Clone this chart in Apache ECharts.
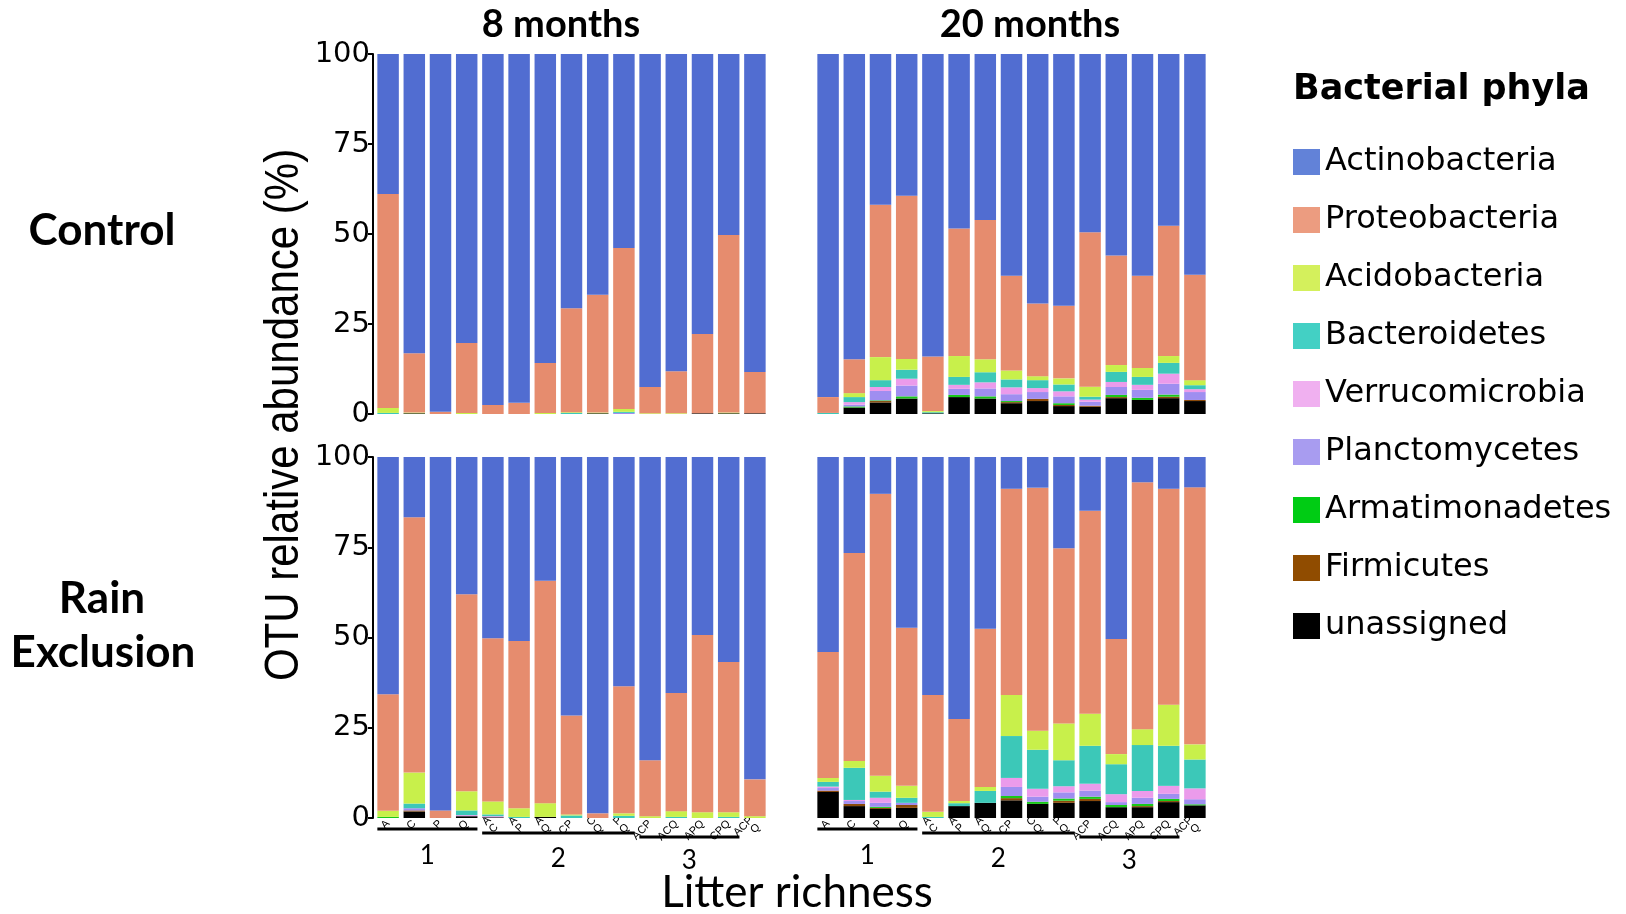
<!DOCTYPE html>
<html>
<head>
<meta charset="utf-8">
<script src="https://cdn.jsdelivr.net/npm/echarts@6/dist/echarts.min.js"></script>
<style>
  html, body { margin: 0; padding: 0; background: #ffffff; }
  #chart { width: 1626px; height: 914px; }
</style>
</head>
<body>
<div id="chart"></div>
<script>
// Litter mixtures on the x axis (richness 1, 2, 3, 4)
const categories = ['A', 'C', 'P', 'Q', 'A\nC', 'A\nP', 'A\nQ', 'CP', 'C\nQ', 'P\nQ',
                    'ACP', 'ACQ', 'APQ', 'CPQ', 'ACP\nQ'];
const yTicks = [0, 25, 50, 75, 100];

// Richness brackets: label, first and last category index
const richnessGroups = [
  { label: '1', first: 0, last: 3 },
  { label: '2', first: 4, last: 9 },
  { label: '3', first: 10, last: 13 }
];

// Phyla in legend order (top of stack first)
const phyla = ['Actinobacteria', 'Proteobacteria', 'Acidobacteria', 'Bacteroidetes',
               'Verrucomicrobia', 'Planctomycetes', 'Armatimonadetes', 'Firmicutes', 'unassigned'];
const barColors = ['#516DD1', '#E68C6E', '#C8F04B', '#3CC8B8', '#EB9BEB',
                   '#9F8EF0', '#19C819', '#8A4A0A', '#000000'];
const legendColors = ['#6282D8', '#EC9C80', '#D4F05C', '#43D0C4', '#F0B0F0',
                      '#A89CF0', '#00CC14', '#904C00', '#000000'];

// Relative abundance (%) per phylum, Control, 8 months
const control8 = {
  Actinobacteria:  [38.9, 83.1, 99.4, 80.3, 97.5, 96.9, 85.8, 70.6, 66.9, 53.9, 92.5, 88.1, 77.8, 50.3, 88.3],
  Proteobacteria:  [59.4, 16.5, 0.6, 19.4, 2.5, 3.1, 13.9, 28.9, 32.7, 44.7, 7.3, 11.7, 22.0, 49.3, 11.5],
  Acidobacteria:   [1.4, 0.2, 0, 0.3, 0, 0, 0.3, 0.2, 0.2, 0.8, 0.2, 0.2, 0, 0.2, 0],
  Bacteroidetes:   [0.3, 0, 0, 0, 0, 0, 0, 0.3, 0, 0.3, 0, 0, 0, 0, 0],
  Verrucomicrobia: [0, 0, 0, 0, 0, 0, 0, 0, 0, 0, 0, 0, 0, 0, 0],
  Planctomycetes:  [0, 0, 0, 0, 0, 0, 0, 0, 0, 0.3, 0, 0, 0, 0, 0],
  Armatimonadetes: [0, 0, 0, 0, 0, 0, 0, 0, 0, 0, 0, 0, 0, 0, 0],
  Firmicutes:      [0, 0, 0, 0, 0, 0, 0, 0, 0, 0, 0, 0, 0, 0, 0],
  unassigned:      [0, 0.2, 0, 0, 0, 0, 0, 0, 0.2, 0, 0, 0, 0.2, 0.2, 0.2]
};

// Control, 20 months
const control20 = {
  Actinobacteria:  [95.3, 84.8, 41.9, 39.4, 84.0, 48.5, 46.1, 61.6, 69.3, 69.9, 49.5, 56.0, 61.6, 47.7, 61.3],
  Proteobacteria:  [4.4, 9.4, 42.3, 45.3, 15.2, 35.4, 38.7, 26.3, 20.2, 20.2, 42.9, 30.4, 25.6, 36.2, 29.3],
  Acidobacteria:   [0, 1.1, 6.4, 3.0, 0.3, 5.8, 3.6, 2.5, 1.1, 1.7, 2.8, 1.9, 2.5, 1.9, 1.4],
  Bacteroidetes:   [0.3, 1.4, 1.9, 2.5, 0.3, 2.2, 2.8, 2.2, 2.2, 1.9, 0.8, 2.8, 2.2, 3.0, 1.1],
  Verrucomicrobia: [0, 0.7, 1.1, 1.9, 0, 1.1, 1.7, 1.9, 1.1, 1.4, 0.6, 1.4, 1.4, 2.8, 0.8],
  Planctomycetes:  [0, 0.5, 2.6, 3.0, 0, 1.7, 2.2, 1.9, 1.9, 1.9, 1.1, 2.2, 2.2, 3.0, 2.2],
  Armatimonadetes: [0, 0.3, 0.2, 0.6, 0, 0.6, 0.6, 0.3, 0, 0.5, 0, 0.6, 0.6, 0.6, 0],
  Firmicutes:      [0, 0, 0.4, 0, 0, 0, 0, 0.3, 0.6, 0.3, 0.3, 0.3, 0, 0.4, 0.3],
  unassigned:      [0, 1.8, 3.2, 4.3, 0.2, 4.7, 4.3, 3.0, 3.6, 2.2, 2.0, 4.4, 3.9, 4.4, 3.6]
};

// Rain exclusion, 8 months
const rain8 = {
  Actinobacteria:  [65.7, 16.7, 97.9, 38.0, 50.2, 51.0, 34.3, 71.6, 98.7, 63.5, 84.0, 65.4, 49.3, 56.8, 89.3],
  Proteobacteria:  [32.3, 70.7, 2.1, 54.6, 45.2, 46.3, 61.6, 27.4, 1.3, 35.2, 15.5, 32.7, 49.1, 41.6, 10.2],
  Acidobacteria:   [1.7, 8.6, 0, 5.3, 3.6, 2.4, 3.8, 0.3, 0, 0.7, 0.5, 1.6, 1.6, 1.3, 0.5],
  Bacteroidetes:   [0, 1.3, 0, 1.3, 0.5, 0.3, 0, 0.7, 0, 0.6, 0, 0.3, 0, 0.3, 0],
  Verrucomicrobia: [0, 0, 0, 0.3, 0.3, 0, 0, 0, 0, 0, 0, 0, 0, 0, 0],
  Planctomycetes:  [0, 0.6, 0, 0, 0, 0, 0, 0, 0, 0, 0, 0, 0, 0, 0],
  Armatimonadetes: [0.3, 0, 0, 0, 0, 0, 0, 0, 0, 0, 0, 0, 0, 0, 0],
  Firmicutes:      [0, 0.3, 0, 0, 0, 0, 0, 0, 0, 0, 0, 0, 0, 0, 0],
  unassigned:      [0, 1.8, 0, 0.5, 0.2, 0, 0.3, 0, 0, 0, 0, 0, 0, 0, 0]
};

// Rain exclusion, 20 months
const rain20 = {
  Actinobacteria:  [54.0, 26.6, 10.2, 47.3, 65.9, 72.6, 47.6, 8.8, 8.5, 25.3, 14.9, 50.4, 7.0, 8.8, 8.4],
  Proteobacteria:  [34.9, 57.6, 78.1, 43.8, 32.4, 22.7, 43.8, 57.1, 67.3, 48.5, 56.2, 31.9, 68.4, 59.8, 71.2],
  Acidobacteria:   [1.1, 1.9, 4.4, 3.3, 1.4, 0.6, 1.1, 11.4, 5.3, 10.2, 8.9, 2.8, 4.4, 11.4, 4.2],
  Bacteroidetes:   [1.3, 8.9, 1.7, 1.4, 0.3, 0.8, 3.3, 11.6, 10.8, 7.2, 10.5, 8.3, 12.7, 11.1, 8.0],
  Verrucomicrobia: [0.4, 0.3, 1.4, 0, 0, 0, 0, 2.5, 2.2, 1.7, 1.9, 2.2, 1.9, 2.2, 3.0],
  Planctomycetes:  [0.7, 0.8, 1.1, 0.6, 0, 0, 0, 2.5, 1.4, 1.7, 1.7, 0.8, 1.7, 1.4, 1.4],
  Armatimonadetes: [0, 0, 0.3, 0, 0, 0, 0, 0.6, 0.6, 0.6, 0.6, 0.6, 0.6, 0.6, 0.3],
  Firmicutes:      [0.4, 0.6, 0.3, 0.8, 0, 0, 0, 0.6, 0, 0.6, 0.6, 0, 0.3, 0.3, 0],
  unassigned:      [7.2, 3.3, 2.5, 2.8, 0, 3.3, 4.2, 4.9, 3.9, 4.2, 4.7, 3.0, 3.0, 4.4, 3.5]
};

// Panel layout: data, grid box, whether the y axis and the x labels are drawn
const panels = [
  { data: control8,  grid: { left: 375, top: 54,  width: 393, height: 360 }, yAxis: true,  xLabels: false },
  { data: control20, grid: { left: 815, top: 54,  width: 393, height: 360 }, yAxis: false, xLabels: false },
  { data: rain8,     grid: { left: 375, top: 457, width: 393, height: 361 }, yAxis: true,  xLabels: true },
  { data: rain20,    grid: { left: 815, top: 457, width: 393, height: 361 }, yAxis: false, xLabels: true }
];

const chart = echarts.init(document.getElementById('chart'), null, { renderer: 'canvas' });

const grids = [], xAxes = [], yAxes = [], series = [];
panels.forEach((p, gi) => {
  grids.push(Object.assign({ containLabel: false }, p.grid));
  xAxes.push({
    type: 'category', gridIndex: gi, data: categories,
    axisLine: { show: false }, axisTick: { show: false },
    axisLabel: {
      show: p.xLabels, interval: 0, rotate: 45, margin: 4,
      fontFamily: 'Liberation Sans', fontSize: 11, lineHeight: 10, color: '#000'
    }
  });
  yAxes.push({
    type: 'value', gridIndex: gi, min: yTicks[0], max: yTicks[yTicks.length - 1], interval: 25,
    show: p.yAxis, offset: 2,
    splitLine: { show: false },
    axisLine: { show: p.yAxis, lineStyle: { color: '#000', width: 2 } },
    axisTick: { show: p.yAxis, length: 5, lineStyle: { color: '#000', width: 2 } },
    axisLabel: {
      show: p.yAxis, margin: 3, color: '#000',
      fontFamily: 'DejaVu Sans', fontSize: 29
    }
  });
  // stack from the bottom: unassigned first, Actinobacteria on top
  for (let k = phyla.length - 1; k >= 0; k--) {
    const name = phyla[k];
    series.push({
      name: name, type: 'bar', stack: 'panel' + gi,
      xAxisIndex: gi, yAxisIndex: gi,
      barCategoryGap: '18%',
      data: p.data[name],
      itemStyle: { color: barColors[k] },
      emphasis: { disabled: true },
      animation: false
    });
  }
});

const textStyleBase = { fill: '#000' };

const option = {
  backgroundColor: '#ffffff',
  animation: false,
  grid: grids,
  xAxis: xAxes,
  yAxis: yAxes,
  series: series,
  legend: {
    orient: 'vertical', left: 1288, top: 141,
    itemWidth: 27, itemHeight: 26, itemGap: 26,
    icon: 'rect', selectedMode: false,
    textStyle: { fontFamily: 'DejaVu Sans', fontSize: 32, color: '#000', padding: [0, 0, 0, 0] },
    data: phyla.map((n, i) => ({ name: n, itemStyle: { color: legendColors[i] } }))
  },
  graphic: [
    { type: 'text', x: 1293, y: 90, style: Object.assign({ text: 'Bacterial phyla', font: 'bold 35px "DejaVu Sans"', textAlign: 'left', textVerticalAlign: 'middle' }, textStyleBase) },
    { type: 'text', x: 561, y: 25, style: Object.assign({ text: '8 months', font: 'bold 38px Lato', textAlign: 'center', textVerticalAlign: 'middle' }, textStyleBase) },
    { type: 'text', x: 1030, y: 25, style: Object.assign({ text: '20 months', font: 'bold 38px Lato', textAlign: 'center', textVerticalAlign: 'middle' }, textStyleBase) },
    { type: 'text', x: 102, y: 231, style: Object.assign({ text: 'Control', font: 'bold 44px Lato', textAlign: 'center', textVerticalAlign: 'middle' }, textStyleBase) },
    { type: 'text', x: 102, y: 599, style: Object.assign({ text: 'Rain', font: 'bold 44px Lato', textAlign: 'center', textVerticalAlign: 'middle' }, textStyleBase) },
    { type: 'text', x: 103, y: 653, style: Object.assign({ text: 'Exclusion', font: 'bold 44px Lato', textAlign: 'center', textVerticalAlign: 'middle' }, textStyleBase) },
    { type: 'text', x: 285, y: 415, rotation: Math.PI / 2, scaleY: 1.15,
      style: Object.assign({ text: 'OTU relative abundance (%)', font: '42px "Liberation Sans"', textAlign: 'center', textVerticalAlign: 'middle' }, textStyleBase) },
    { type: 'text', x: 797, y: 893, style: Object.assign({ text: 'Litter richness', font: '44px Lato', textAlign: 'center', textVerticalAlign: 'middle' }, textStyleBase) }
  ]
};

chart.setOption(option);

// Richness brackets under the bottom panels, placed through the category axes
const bracketOffsets = [{ line: 11, label: 38 }, { line: 15, label: 41 }, { line: 19, label: 43 }];
const extra = [];
[2, 3].forEach(gi => {
  const p0 = chart.convertToPixel({ gridIndex: gi }, [0, 0]);
  const p1 = chart.convertToPixel({ gridIndex: gi }, [1, 0]);
  const band = p1[0] - p0[0];
  const half = band * (1 - 0.18) / 2;
  richnessGroups.forEach((g, j) => {
    const a = chart.convertToPixel({ gridIndex: gi }, [g.first, 0]);
    const b = chart.convertToPixel({ gridIndex: gi }, [g.last, 0]);
    const y0 = a[1];
    extra.push({
      type: 'line',
      shape: { x1: a[0] - half, y1: y0 + bracketOffsets[j].line, x2: b[0] + half, y2: y0 + bracketOffsets[j].line },
      style: { stroke: '#000', lineWidth: 3 }
    });
    extra.push({
      type: 'text', x: (a[0] + b[0]) / 2, y: y0 + bracketOffsets[j].label,
      style: { text: g.label, font: '26px Lato', fill: '#000', textAlign: 'center', textVerticalAlign: 'middle' }
    });
  });
});
chart.setOption({ graphic: option.graphic.concat(extra) });
</script>
</body>
</html>
